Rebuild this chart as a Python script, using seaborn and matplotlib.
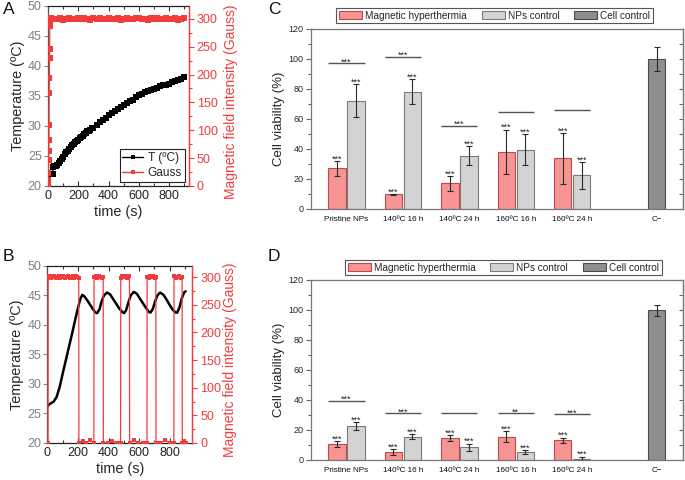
import matplotlib
matplotlib.use("Agg")
import matplotlib.pyplot as plt
import pandas as pd
import seaborn as sns
from matplotlib.lines import Line2D
from matplotlib.patches import Patch
from matplotlib.ticker import MultipleLocator
from matplotlib.colors import to_hex

sns.set_theme(style="ticks")
plt.rcParams["font.family"] = ["Liberation Sans", "DejaVu Sans"]

# ---------------- Panel A data ----------------
tempA_time = [0, 10, 20, 30, 35, 40, 50, 60, 70, 80, 90, 100, 110, 120, 130, 140, 150, 160, 170,
              180, 190, 200, 210, 220, 230, 240, 250, 260, 270, 280, 290,
              300, 320, 340, 360, 380, 400, 420, 440, 460, 480, 500, 520, 540, 560, 580, 600,
              620, 640, 660, 680, 700, 720, 740, 760, 780, 800, 820, 840, 860, 880, 900]
tempA_vals = [22.0, 22.0, 22.0, 22.0, 23.2, 23.3, 23.4, 23.5, 23.8, 24.1, 24.5, 24.9, 25.3, 25.6,
              25.9, 26.2, 26.5, 26.8, 27.0, 27.3, 27.5, 27.7, 28.0, 28.2, 28.4, 28.7, 28.9,
              29.1, 29.2, 29.4, 29.6,
              29.7, 30.2, 30.6, 31.0, 31.4, 31.8, 32.2, 32.5, 32.9, 33.2,
              33.5, 33.8, 34.1, 34.4, 34.8, 35.1, 35.4, 35.6, 35.8, 36.0, 36.2, 36.4, 36.6, 36.8,
              36.9, 37.0, 37.3, 37.5, 37.7, 37.9, 38.2]
gaussA_time = [0, 2, 3, 4, 5, 6, 7, 8, 9, 10, 11, 12, 13, 14, 16,
               20, 40, 60, 80, 100, 120, 140, 160, 180, 200, 220, 240, 260, 280, 300,
               320, 340, 360, 380, 400, 420, 440, 460, 480, 500, 520, 540, 560, 580, 600,
               620, 640, 660, 680, 700, 720, 740, 760, 780, 800, 820, 840, 860, 880, 900]
gaussA_vals = [0, 11, 23, 47, 62, 83, 110, 167, 194, 229, 246, 287, 293, 298, 300,
               301, 299, 300, 302, 298, 300, 301, 299, 300, 302, 299, 301, 300, 298, 301,
               300, 302, 299, 300, 301, 299, 300, 302, 298, 300, 301, 299, 300, 301, 302,
               299, 300, 298, 301, 300, 302, 299, 300, 301, 299, 300, 302, 298, 300, 301]

# ---------------- Panel B data ----------------
tempB_time = [0, 10, 20, 40, 60, 80, 100, 120, 140, 160, 180, 200, 215, 228, 240, 260, 280, 300,
              315, 325, 340, 355, 370, 390, 410, 430, 450, 470, 490, 502, 515, 530, 545, 565,
              585, 605, 625, 645, 665, 675, 690, 705, 720, 738, 760, 780, 800, 820, 840, 850,
              865, 880, 895, 905]
tempB_vals = [26.2, 26.5, 26.7, 27.0, 27.8, 29.5, 31.8, 34.0, 36.2, 38.4, 40.7, 42.9, 44.4, 45.1,
              44.9, 44.2, 43.4, 42.6, 42.1, 42.0, 42.6, 44.0, 45.0, 45.5, 45.2, 44.4, 43.6, 42.8,
              42.2, 42.0, 42.5, 43.8, 45.0, 45.6, 45.3, 44.5, 43.7, 42.9, 42.2, 42.1, 42.7, 44.0,
              45.0, 45.5, 45.1, 44.3, 43.4, 42.6, 42.1, 42.1, 43.0, 44.5, 45.5, 45.7]
gaussB_time = [0, 4, 5, 15, 25, 35, 45, 55, 65, 75, 85, 95, 105, 115, 125, 135, 145, 155, 165, 175,
               185, 195, 205,
               206, 230, 255, 280, 304,
               305, 315, 325, 335, 345, 355, 365,
               366, 395, 425, 455, 479,
               480, 490, 500, 510, 520, 530, 537,
               538, 565, 595, 625, 652,
               653, 663, 673, 683, 693, 703, 710,
               711, 740, 770, 800, 828,
               829, 839, 849, 859, 869, 876, 882,
               883, 895, 905]
gaussB_vals = [0, 0, 300, 301, 299, 300, 302, 298, 300, 301, 299, 300, 302, 299, 300, 301, 298, 300,
               302, 299, 301, 300, 299,
               0, 4, 0, 5, 0,
               300, 301, 299, 302, 300, 298, 300,
               0, 0, 4, 0, 0,
               299, 301, 300, 302, 299, 300, 301,
               0, 5, 0, 0, 0,
               300, 298, 301, 300, 302, 299, 300,
               0, 0, 5, 0, 0,
               301, 299, 300, 302, 300, 298, 300,
               0, 4, 0]

# ---------------- Panels C / D data ----------------
GROUPS = ["Pristine NPs", "140ºC 16 h", "140ºC 24 h", "160ºC 16 h", "160ºC 24 h"]
CTRL_LABEL = "C\u2212"
SERIES = ["Magnetic hyperthermia", "NPs control", "Cell control"]

C_mh = [27.1, 9.8, 17.1, 38.2, 33.8]
C_mh_err = [5.0, 0.3, 5.0, 14.7, 17.0]
C_np = [72.0, 78.2, 35.6, 39.6, 22.4]
C_np_err = [11.0, 8.5, 6.3, 10.5, 9.0]
C_ctrl = 100.0
C_ctrl_err = 8.3
C_mh_stars = ["***", "***", "***", "***", "***"]
C_np_stars = ["***", "***", "***", "***", "***"]
C_sig_y = [97.3, 101.6, 55.5, 64.4, 66.2]
C_sig_txt = ["***", "***", "***", "", ""]

D_mh = [10.4, 5.3, 14.7, 15.6, 13.1]
D_mh_err = [2.0, 1.9, 2.0, 3.6, 1.8]
D_np = [22.4, 15.6, 8.4, 5.3, 0.7]
D_np_err = [2.6, 1.6, 2.4, 1.4, 1.5]
D_ctrl = 99.8
D_ctrl_err = 3.8
D_mh_stars = ["***", "***", "***", "***", "***"]
D_np_stars = ["***", "***", "***", "***", "***"]
D_sig_y = [39.3, 31.1, 31.6, 31.0, 30.4]
D_sig_txt = ["***", "***", "", "**", "***"]

# ---------------- styling ----------------
RED = "#f23c3c"
FILLS = ["#f79494", "#d3d3d3", "#8e8e8e"]
EDGES = ["#c04848", "#7a7a7a", "#4a4a4a"]
GROUP_POS = [0, 1, 2, 3, 4]
CTRL_POS = 5.5
OFF = 0.168
BARW = 0.918

fig = plt.figure(figsize=(6.85, 4.80), dpi=100)
axA = fig.add_axes([0.0701, 0.6125, 0.2058, 0.375])
axB = fig.add_axes([0.0693, 0.0771, 0.2117, 0.3688])
axC = fig.add_axes([0.4536, 0.5646, 0.5431, 0.375])
axD = fig.add_axes([0.4536, 0.0417, 0.5431, 0.375])


def temp_panel(ax, t, T, gt, gv, xmax, gmax, with_markers, legend, rlabel_xy):
    if with_markers:
        sns.lineplot(x=t, y=T, ax=ax, color="black", marker="s", markersize=4.8,
                     markeredgecolor="black", markeredgewidth=0, linewidth=1.0,
                     sort=False, estimator=None)
    else:
        sns.lineplot(x=t, y=T, ax=ax, color="black", linewidth=1.8,
                     sort=False, estimator=None)
    ax2 = ax.twinx()
    sns.lineplot(x=gt, y=gv, ax=ax2, color=RED, marker="s",
                 markersize=4.6 if with_markers else 3.4,
                 markeredgecolor=RED, markeredgewidth=0, linewidth=0.9,
                 sort=False, estimator=None)
    ax.set_xlim(0, xmax)
    ax.set_ylim(20, 50)
    ax2.set_ylim(0, gmax)
    ax.xaxis.set_major_locator(MultipleLocator(200))
    ax.xaxis.set_minor_locator(MultipleLocator(100))
    ax.yaxis.set_major_locator(MultipleLocator(5))
    ax.tick_params(axis="x", which="both", direction="in", top=True, bottom=True,
                   color="#333333", width=0.8, labelsize=9, labelcolor="#222222", pad=3)
    ax.tick_params(axis="x", which="major", length=3.5)
    ax.tick_params(axis="x", which="minor", length=2)
    ax.tick_params(axis="y", which="major", direction="out", left=True, right=False,
                   length=3, width=0.8, color="#888888", labelcolor="#808080",
                   labelsize=9, pad=1.5)
    ax2.yaxis.set_major_locator(MultipleLocator(50))
    ax2.yaxis.set_minor_locator(MultipleLocator(25))
    ax2.tick_params(axis="y", which="both", direction="out", colors=RED, width=0.8,
                    labelsize=9, pad=2)
    ax2.tick_params(axis="y", which="major", length=3.5)
    ax2.tick_params(axis="y", which="minor", length=2)
    for side in ["left", "top", "bottom"]:
        ax2.spines[side].set_visible(False)
    ax2.spines["right"].set_color(RED)
    ax2.spines["right"].set_linewidth(0.9)
    ax.spines["right"].set_color(RED)
    ax.spines["left"].set_color("#555555")
    for side in ["top", "bottom"]:
        ax.spines[side].set_color("#222222")
    for s in ax.spines.values():
        s.set_linewidth(0.9)
    ax.set_xlabel("time (s)", fontsize=10.4, labelpad=2)
    ax.set_ylabel("Temperature (ºC)", fontsize=10.4, labelpad=2)
    ax2.set_ylabel("Magnetic field intensity (Gauss)", fontsize=10.0, color=RED)
    ax2.yaxis.set_label_coords(*rlabel_xy)
    if legend:
        handles = [Line2D([], [], color="black", marker="s", markersize=3.5, lw=1,
                          markeredgewidth=0, label="T (ºC)"),
                   Line2D([], [], color=RED, marker="s", markersize=3.5, lw=1,
                          markeredgewidth=0, label="Gauss")]
        leg = ax2.legend(handles=handles, loc="lower right", fontsize=8.6, frameon=True,
                         fancybox=False, edgecolor="#222222", framealpha=1,
                         handlelength=1.7, handletextpad=0.4, borderpad=0.25,
                         labelspacing=0.2, borderaxespad=0.35)
        leg.get_frame().set_linewidth(0.8)
    else:
        if ax2.get_legend() is not None:
            ax2.get_legend().remove()


def bar_panel(ax, mh, mh_err, npc, npc_err, ctrl, ctrl_err, mh_st, np_st,
              sig_y, sig_txt, legend_xy):
    xs, vals, errs, hues, stars = [], [], [], [], []
    for p, a, ae, b, be, sa, sb in zip(GROUP_POS, mh, mh_err, npc, npc_err, mh_st, np_st):
        xs += [p - OFF, p + OFF]
        vals += [a, b]
        errs += [ae, be]
        hues += [SERIES[0], SERIES[1]]
        stars += [sa, sb]
    xs.append(CTRL_POS)
    vals.append(ctrl)
    errs.append(ctrl_err)
    hues.append(SERIES[2])
    stars.append("")
    df = pd.DataFrame({"x": xs, "v": vals, "s": hues})
    sns.barplot(data=df, x="x", y="v", hue="s", hue_order=SERIES,
                palette=dict(zip(SERIES, FILLS)), native_scale=True, dodge=False,
                width=BARW, errorbar=None, legend=False, ax=ax, linewidth=0.8,
                saturation=1)
    edge_by_fill = {to_hex(f): e for f, e in zip(FILLS, EDGES)}
    for patch in ax.patches:
        fc = to_hex(patch.get_facecolor(), keep_alpha=False)
        if fc in edge_by_fill:
            patch.set_edgecolor(edge_by_fill[fc])
            patch.set_linewidth(0.8)
    ax.errorbar(xs, vals, yerr=errs, fmt="none", ecolor="#2a2a2a", elinewidth=0.8,
                capsize=2.2, capthick=0.8, zorder=4)
    for x, v, e, st in zip(xs, vals, errs, stars):
        if st:
            ax.text(x, v + e - 0.3, st, ha="center", va="baseline", fontsize=6.5,
                    color="#222222")
    for p, y, txt in zip(GROUP_POS, sig_y, sig_txt):
        ax.hlines(y, p - 0.32, p + 0.32, color="#555555", lw=1.0)
        if txt:
            ax.text(p, y - 0.8, txt, ha="center", va="baseline", fontsize=6.5,
                    color="#222222")
    ax.set_xlim(-0.635, 5.96)
    ax.set_ylim(0, 120)
    ax.set_xticks(GROUP_POS + [CTRL_POS])
    ax.set_xticklabels(GROUPS + [CTRL_LABEL])
    ax.tick_params(axis="x", length=0, labelsize=5.9, pad=5, labelcolor="#111111")
    ax.yaxis.set_major_locator(MultipleLocator(20))
    ax.yaxis.set_minor_locator(MultipleLocator(10))
    ax.tick_params(axis="y", which="both", direction="out", left=True, right=False,
                   width=0.8, color="#666666")
    ax.tick_params(axis="y", which="major", length=3.5, labelsize=6.5, pad=1.5)
    ax.tick_params(axis="y", which="minor", length=2)
    sec = ax.secondary_yaxis("right")
    sec.yaxis.set_major_locator(MultipleLocator(10))
    sec.tick_params(axis="y", direction="in", length=3, width=0.8, color="#666666",
                    labelright=False)
    sec.spines["right"].set_color("#777777")
    sec.spines["right"].set_linewidth(0.9)
    for s in ax.spines.values():
        s.set_color("#777777")
        s.set_linewidth(0.9)
    ax.set_xlabel("")
    ax.set_ylabel("Cell viability (%)", fontsize=9.5, labelpad=3)
    handles = [Patch(facecolor=f, edgecolor=e, linewidth=0.8, label=s)
               for f, e, s in zip(FILLS, EDGES, SERIES)]
    leg = ax.legend(handles=handles, loc="center", bbox_to_anchor=legend_xy,
                    bbox_transform=fig.transFigure, ncol=3, fontsize=7.2, frameon=True,
                    fancybox=False, edgecolor="#555555", framealpha=1, borderpad=0.25,
                    handlelength=2.3, handleheight=0.9, handletextpad=0.3,
                    columnspacing=1.5, borderaxespad=0)
    leg.get_frame().set_linewidth(0.8)


temp_panel(axA, tempA_time, tempA_vals, gaussA_time, gaussA_vals, 930, 323, True, True,
           (1.245, 0.47))
temp_panel(axB, tempB_time, tempB_vals, gaussB_time, gaussB_vals, 950, 320, False, False,
           (1.21, 0.47))
bar_panel(axC, C_mh, C_mh_err, C_np, C_np_err, C_ctrl, C_ctrl_err, C_mh_stars, C_np_stars,
          C_sig_y, C_sig_txt, (0.7219, 0.9677))
bar_panel(axD, D_mh, D_mh_err, D_np, D_np_err, D_ctrl, D_ctrl_err, D_mh_stars, D_np_stars,
          D_sig_y, D_sig_txt, (0.7350, 0.4427))

for lab, x, y in [("A", 0.004, 0.996), ("C", 0.391, 0.996), ("B", 0.004, 0.481), ("D", 0.391, 0.481)]:
    fig.text(x, y, lab, fontsize=12.5, ha="left", va="top", color="#111111")

fig.savefig("out.png", dpi=100)
